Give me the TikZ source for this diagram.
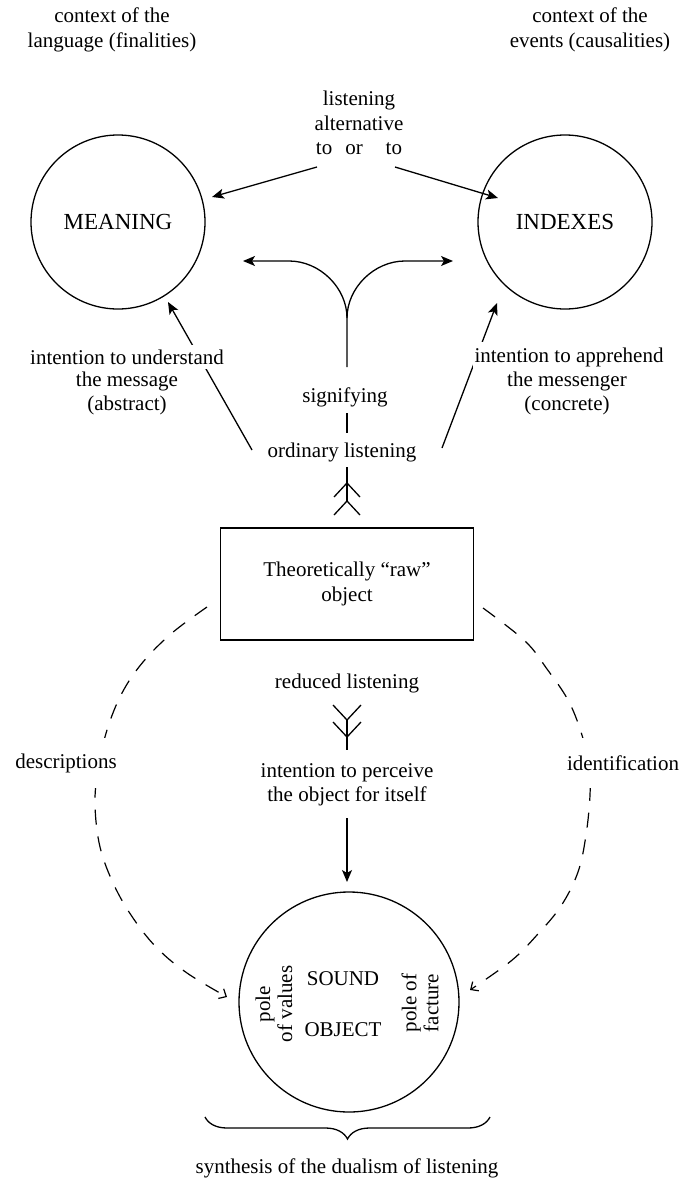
\documentclass[tikz,border=0pt]{standalone}
\usepackage{fontspec}
\setmainfont{Liberation Serif}
\usetikzlibrary{arrows.meta,decorations.pathreplacing}
\begin{document}
\begin{tikzpicture}[x=1pt,y=-1pt,
  txt/.style={font=\fontsize{21}{24.5}\selectfont, align=center, inner sep=0pt},
  big/.style={font=\fontsize{23}{26}\selectfont},
  circ/.style={draw, circle, line width=1.3pt, inner sep=0pt},
  ln/.style={line width=1.3pt},
  arr/.style={line width=1.3pt, -{Stealth[length=12pt,width=10pt,inset=3pt]}},
  dsh/.style={line width=1.2pt, dash pattern=on 15pt off 12pt, -{Straight Barb[length=6pt,width=11pt]}},
  wbg/.style={fill=white, inner ysep=5pt, inner xsep=2pt}]
\useasboundingbox (0,0) rectangle (684,1185);

% top context texts
\node[txt] (ctxL) at (112,30) {context of the\\language (finalities)};
\node[txt] (ctxR) at (590,30) {context of the\\events (causalities)};
\node[txt] (alt) at (359,123) {listening\\alternative\\to\hspace{13pt}or\hspace{23pt}to};

% circles
\node[circ, big, minimum size=174pt] (meaning) at (118,222) {MEANING};
\node[circ, big, minimum size=174pt] (indexes) at (565,222) {INDEXES};

% alternative arrows
\coordinate (a1s) at (317,167); \coordinate (a1e) at (212,197);
\coordinate (a2s) at (395,167); \coordinate (a2e) at (498,198);
\draw[arr] (a1s) -- (a1e);
\draw[arr] (a2s) -- (a2e);

% fork
\coordinate (fb) at (347,367); \coordinate (fm) at (347,318);
\coordinate (fl) at (289,261); \coordinate (flt) at (243,261);
\coordinate (fr) at (405,261); \coordinate (frt) at (453,261);
\draw[arr] (fb) -- (fm) .. controls (347,288) and (320,261) .. (fl) -- (flt);
\draw[arr] (fm) .. controls (347,288) and (374,261) .. (fr) -- (frt);

% intention arrows
\coordinate (i1s) at (252,450); \coordinate (i1e) at (168,302);
\coordinate (i2s) at (442,448); \coordinate (i2e) at (497,303);
\draw[arr] (i1s) -- (i1e);
\draw[arr] (i2s) -- (i2e);
\node[txt, wbg] (intL1) at (127,357) {intention to understand};
\node[txt] (intL2) at (127,381) {the message};
\node[txt] (intL3) at (127,405) {(abstract)};
\node[txt, wbg] (intR1) at (569,357) {intention to apprehend};
\node[txt] (intR2) at (567,381) {the messenger};
\node[txt] (intR3) at (567,405) {(concrete)};

% signifying / ordinary listening
\node[txt] (sig) at (345,397) {signifying};
\node[txt] (ord) at (342,452) {ordinary listening};
\coordinate (s1) at (347,413); \coordinate (s2) at (347,433);
\draw[ln] (s1) -- (s2);
\coordinate (u1) at (347,467); \coordinate (u2) at (347,502);
\draw[ln] (u1) -- (u2);
\draw[ln] (334,497) -- (347,483) -- (360,497);
\draw[ln] (334,515) -- (347,501) -- (360,515);

% box
\node[txt, draw, line width=1.3pt, minimum width=253pt, minimum height=112pt] (box) at (347,584) {Theoretically “raw”\\object};

% reduced listening
\node[txt] (red) at (347,683) {reduced listening};
\draw[ln] (333,705) -- (347,720) -- (361,705);
\draw[ln] (333,722) -- (347,737) -- (361,722);
\coordinate (d1) at (347,720); \coordinate (d2) at (347,750);
\draw[ln] (d1) -- (d2);
\node[txt] (perc) at (347,785) {intention to perceive\\the object for itself};
\coordinate (p1) at (347,818); \coordinate (p2) at (347,882);
\draw[arr] (p1) -- (p2);

% sound object
\node[circ, minimum size=220pt] (sound) at (349,1002) {};
\node[txt] (snd) at (343,979) {SOUND};
\node[txt] (obj) at (343,1030) {OBJECT};
\node[txt, rotate=90, font=\fontsize{21}{22}\selectfont] (pv) at (274,1004) {pole\\of values};
\node[txt, rotate=90, font=\fontsize{21}{22}\selectfont] (pf) at (420,1003) {pole of\\facture};

% dashed arcs
\draw[dsh] plot[smooth, tension=0.6] coordinates {(207,607) (172,633) (143,662) (122,693) (107,730) (98,770) (95,805) (100,847) (114,885) (133,918) (157,948) (187,973) (227,997)};
\draw[dsh] plot[smooth, tension=0.6] coordinates {(483,608) (525,641) (547,669) (568,700) (581,732) (589,765) (590,795) (586,835) (578,872) (561,906) (537,935) (511,961) (470,990)};
\node[txt, fill=white, minimum height=50pt, inner xsep=3pt] (desc) at (66,763) {descriptions};
\node[txt, fill=white, minimum height=50pt, inner xsep=3pt] (ident) at (623,763) {identification};

% brace
\coordinate (b1) at (205,1117); \coordinate (b2) at (490,1117);
\draw[ln, decorate, decoration={brace, mirror, amplitude=22pt}] (b1) -- (b2);
\node[txt] (syn) at (347,1168) {synthesis of the dualism of listening};
\end{tikzpicture}
\end{document}
